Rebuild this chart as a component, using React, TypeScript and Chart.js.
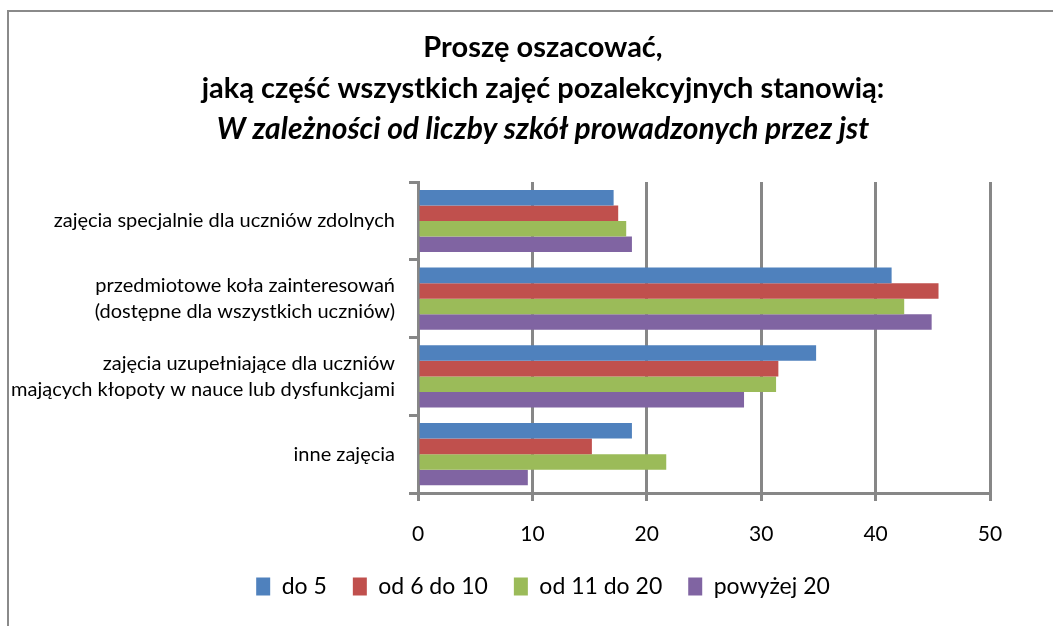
import React, { useEffect, useRef } from "react";
import { Chart, registerables } from "chart.js";

Chart.register(...registerables);

const categories: string[][] = [
  ["zajęcia specjalnie dla uczniów zdolnych"],
  ["przedmiotowe koła zainteresowań", "(dostępne dla wszystkich uczniów)"],
  ["zajęcia uzupełniające dla uczniów", "mających kłopoty w nauce lub dysfunkcjami"],
  ["inne zajęcia"],
];

const seriesNames = ["do 5", "od 6 do 10", "od 11 do 20", "powyżej 20"];
const do5 = [17.1, 41.4, 34.8, 18.7];
const od6do10 = [17.5, 45.5, 31.5, 15.2];
const od11do20 = [18.2, 42.5, 31.3, 21.7];
const powyzej20 = [18.7, 44.9, 28.5, 9.6];
const seriesColors = ["#4F81BD", "#C0504D", "#9BBB59", "#8064A2"];

const titleLines = ["Proszę oszacować,", "jaką część wszystkich zajęć pozalekcyjnych stanowią:"];
const subtitleText = "W zależności od liczby szkół prowadzonych przez jst";

const FONT = "Lato, 'Open Sans', sans-serif";
const GRID = "#878787";
const CANVAS_W = 1086;
const CANVAS_H = 626;

const framePlugin = {
  id: "frame",
  beforeDraw(chart: any) {
    const c = chart.ctx;
    c.save();
    c.fillStyle = "#ffffff";
    c.fillRect(0, 0, chart.width, chart.height);
    c.strokeStyle = "#8a8a8a";
    c.lineWidth = 2;
    c.beginPath();
    c.moveTo(8, chart.height);
    c.lineTo(8, 11);
    c.lineTo(chart.width, 11);
    c.stroke();
    c.restore();
  },
};

export default function App() {
  const ref = useRef<HTMLCanvasElement | null>(null);
  useEffect(() => {
    if (!ref.current) return;
    const all = [do5, od6do10, od11do20, powyzej20];
    const chart = new Chart(ref.current, {
      type: "bar",
      data: {
        labels: categories,
        datasets: all.map((d, i) => ({
          label: seriesNames[i],
          data: d,
          backgroundColor: seriesColors[i],
          borderWidth: 0,
          categoryPercentage: 0.8,
          barPercentage: 1.0,
        })),
      },
      options: {
        indexAxis: "y",
        responsive: false,
        animation: false,
        layout: { padding: { left: 0, right: 0, top: 0, bottom: 18 } },
        plugins: {
          title: {
            display: true,
            text: titleLines,
            color: "#000",
            font: { family: FONT, size: 29, weight: "bold", lineHeight: 1.414 },
            padding: { top: 27, bottom: 0 },
          },
          subtitle: {
            display: true,
            text: subtitleText,
            color: "#000",
            font: { family: FONT, size: 30, weight: "bold", style: "italic", lineHeight: 1.37 },
            padding: { top: 0, bottom: 32 },
          },
          legend: {
            position: "bottom",
            labels: {
              color: "#000",
              font: { family: FONT, size: 23 },
              boxWidth: 14,
              boxHeight: 18,
              padding: 26,
            },
          },
          tooltip: { enabled: false },
        },
        scales: {
          x: {
            min: 0,
            max: 50,
            ticks: { stepSize: 10, color: "#000", font: { family: FONT, size: 21 }, padding: 21 },
            grid: { color: GRID, lineWidth: 3, tickLength: 8, drawTicks: true },
            border: { color: GRID, width: 3 },
            afterFit: (s: any) => { s.height = 56; },
          },
          y: {
            ticks: { color: "#000", font: { family: FONT, size: 20, lineHeight: 1.3 }, padding: 14 },
            grid: { display: true, drawOnChartArea: false, color: GRID, lineWidth: 3, tickLength: 9, offset: true },
            border: { color: GRID, width: 3 },
            afterFit: (s: any) => { s.width = 418; },
          },
          yRightSpace: {
            type: "category",
            position: "right",
            ticks: { display: false },
            grid: { display: false },
            border: { display: false },
            afterFit: (s: any) => { s.width = CANVAS_W - 990; },
          },
        },
      },
      plugins: [framePlugin],
    });
    return () => chart.destroy();
  }, []);
  return (
    <div style={{ position: "absolute", left: 0, top: 0, width: 1053, height: 626, overflow: "hidden", background: "#fff" }}>
      <canvas ref={ref} width={CANVAS_W} height={CANVAS_H} style={{ display: "block" }} />
    </div>
  );
}
